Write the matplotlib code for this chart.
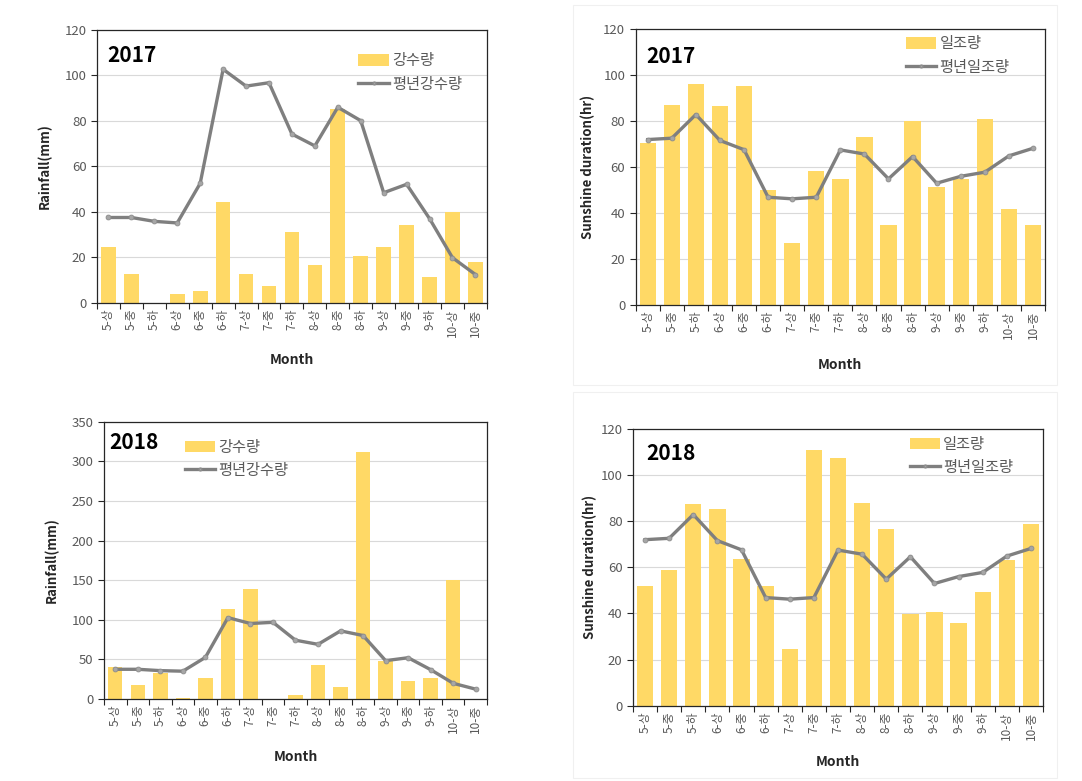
import matplotlib
matplotlib.use("Agg")
import matplotlib.pyplot as plt
from matplotlib.patches import Patch, Rectangle
from matplotlib.lines import Line2D
import numpy as np

plt.rcParams['font.family'] = ['Noto Sans CJK KR', 'DejaVu Sans']

categories = ['5-상', '5-중', '5-하', '6-상', '6-중', '6-하', '7-상', '7-중', '7-하',
              '8-상', '8-중', '8-하', '9-상', '9-중', '9-하', '10-상', '10-중']

rain_2017 = [24.3, 12.5, 0, 4.0, 5.2, 44.4, 12.5, 7.4, 31.3, 16.4, 85.3, 20.4, 24.3, 34.1, 11.1, 40.0, 18.1]
rain_2018 = [41, 17.6, 32.8, 1.0, 26.5, 113, 139, 0, 4.6, 43.3, 14.7, 312, 47.5, 22.3, 26.5, 150.4, 0]
rain_normal = [37.5, 37.5, 35.8, 35.1, 52.5, 102.7, 95.3, 96.8, 74.2, 69.0, 86.0, 80.1, 48.4, 52.1, 37.0, 19.8, 12.4]

sun_2017 = [70.4, 87.1, 96.2, 86.5, 95.1, 50.1, 26.9, 58.3, 54.9, 73.3, 35.0, 80.1, 51.5, 54.7, 80.8, 41.8, 35.0]
sun_2018 = [52.1, 58.8, 87.3, 85.1, 63.8, 52.1, 24.5, 111.1, 107.4, 88.0, 76.6, 39.8, 40.5, 36.0, 49.5, 63.0, 78.9]
sun_normal = [72.0, 72.6, 82.9, 71.6, 67.6, 46.9, 46.2, 46.9, 67.5, 65.7, 54.9, 64.6, 53.0, 56.0, 57.8, 64.9, 68.2]

BAR = '#FFD966'
LINE = '#7F7F7F'
TXT = '#595959'

fig = plt.figure(figsize=(10.82, 7.81), dpi=100)

# faint chart-area boxes for right charts
for (x0, y0, x1, y1) in [(573, 5, 1057, 385), (573, 392, 1057, 778)]:
    fig.patches.append(Rectangle((x0 / 1082, 1 - y1 / 781), (x1 - x0) / 1082, (y1 - y0) / 781,
                                 transform=fig.transFigure, fill=False, ec='#f0f0f0', lw=0.8))

specs = [
    # rect, bars, line, ymax, ystep, ylabel, year, legend labels, legend anchor, year pos, ylabel x, xlabel y, bar width
    ([0.0896, 0.6124, 0.3604, 0.3492], rain_2017, rain_normal, 120, 20, 'Rainfall(mm)', '2017',
     ('강수량', '평년강수량'), (0.655, 0.94), (0.026, 0.908), -0.133, -0.21, 0.64),
    ([0.5875, 0.6095, 0.3783, 0.3530], sun_2017, sun_normal, 120, 20, 'Sunshine duration(hr)', '2017',
     ('일조량', '평년일조량'), (0.645, 1.0), (0.027, 0.90), -0.117, -0.218, 0.68),
    ([0.0961, 0.1050, 0.3540, 0.3550], rain_2018, rain_normal, 350, 50, 'Rainfall(mm)', '2018',
     ('강수량', '평년강수량'), (0.195, 0.96), (0.013, 0.924), -0.136, -0.209, 0.64),
    ([0.5850, 0.0964, 0.3790, 0.3543], sun_2018, sun_normal, 120, 20, 'Sunshine duration(hr)', '2018',
     ('일조량', '평년일조량'), (0.66, 0.998), (0.032, 0.913), -0.105, -0.203, 0.68),
]

x = np.arange(len(categories))
for rect, bars, line, ymax, ystep, ylabel, year, labs, lanchor, ypos, ylx, xly, bw in specs:
    ax = fig.add_axes(rect)
    ax.bar(x, bars, width=bw, color=BAR, zorder=2)
    ax.plot(x, line, color=LINE, lw=2.4, marker='o', ms=3.5, mfc='#A6A6A6', mec='#8C8C8C',
            mew=0.6, zorder=3)
    ax.set_xlim(-0.5, len(categories) - 0.5)
    ax.set_ylim(0, ymax)
    ax.set_yticks(np.arange(0, ymax + 1, ystep))
    ax.yaxis.grid(True, color='#D9D9D9', lw=0.8, zorder=0)
    ax.set_axisbelow(True)
    ax.set_xticks(np.arange(-0.5, len(categories), 1.0))
    ax.set_xticklabels([])
    ax.set_xticks(x, minor=True)
    ax.set_xticklabels(categories, minor=True, rotation=90, fontsize=8.5, color=TXT)
    ax.tick_params(axis='x', which='minor', length=0, pad=4)
    ax.tick_params(axis='x', which='major', length=4, width=0.8, direction='out', color='#262626')
    ax.tick_params(axis='y', length=4, width=0.8, direction='out', labelsize=9.5,
                   labelcolor=TXT, color='#262626')
    for s in ax.spines.values():
        s.set_color('#262626')
        s.set_linewidth(0.9)
    ax.set_ylabel(ylabel, fontsize=9.5, fontweight='bold', color='#262626')
    ax.yaxis.set_label_coords(ylx, 0.5)
    ax.yaxis.label.set_va('center')
    ax.set_xlabel('Month', fontsize=10, fontweight='bold', color='#262626')
    ax.xaxis.set_label_coords(0.5, xly)
    ax.xaxis.label.set_va('center')
    ax.text(ypos[0], ypos[1], year, transform=ax.transAxes, fontsize=15, fontweight='bold',
            va='center', ha='left', color='black')
    handles = [Patch(facecolor=BAR, edgecolor='none'),
               Line2D([0], [0], color=LINE, lw=2.4, marker='o', ms=2, mfc='#A6A6A6', mec='#8C8C8C')]
    ax.legend(handles, labs, loc='upper left', bbox_to_anchor=lanchor, frameon=False,
              fontsize=11, labelcolor=TXT, handlelength=2.0, handleheight=0.8,
              handletextpad=0.2, labelspacing=0.4, borderaxespad=0)

fig.savefig('out.png', dpi=100)
